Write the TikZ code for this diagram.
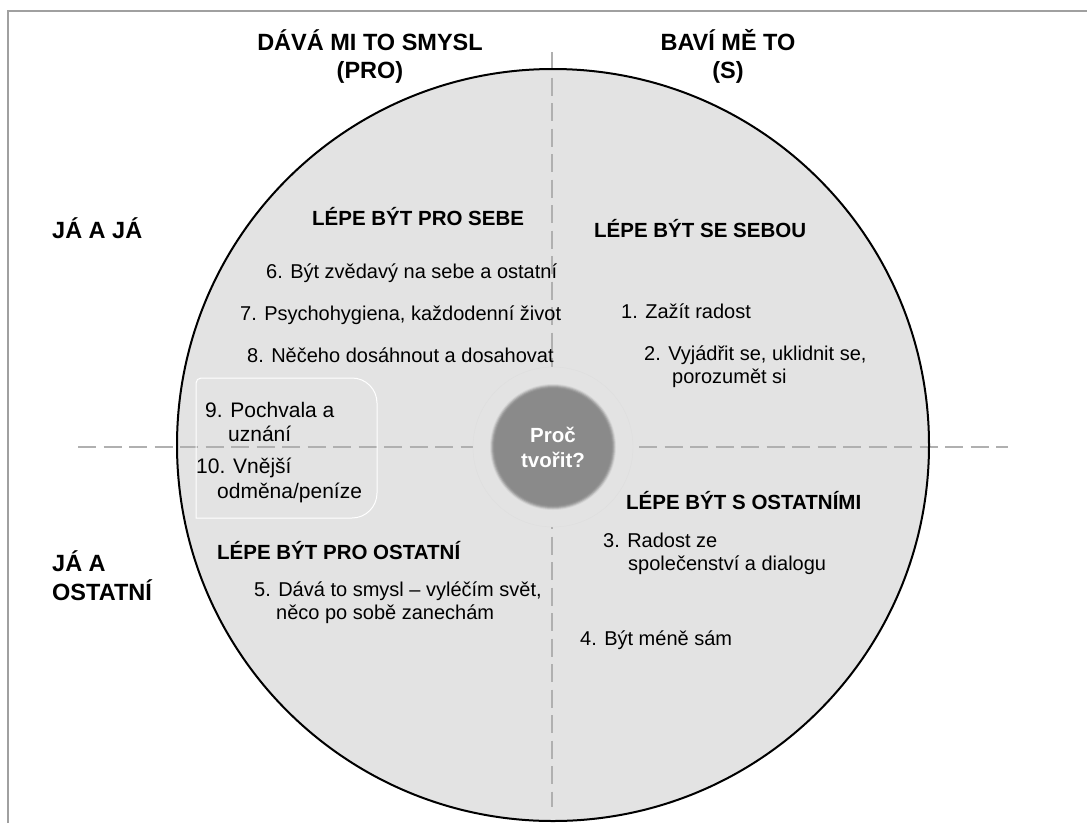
\documentclass[tikz,border=0pt]{standalone}
\usepackage{fontspec}
\setmainfont{Liberation Sans}
\definecolor{bgc}{HTML}{E3E3E3}
\definecolor{dashc}{HTML}{B0B0B0}
\definecolor{framec}{HTML}{A0A0A0}
\definecolor{corec}{HTML}{8A8A8A}
\begin{document}
\begin{tikzpicture}[x=1pt,y=-1pt,
  body/.style={anchor=base west, inner sep=0pt, font=\fontsize{20}{24}\selectfont},
  boxt/.style={anchor=base west, inner sep=0pt, font=\fontsize{21}{25}\selectfont},
  head/.style={anchor=base west, inner sep=0pt, font=\fontsize{20.5}{24}\selectfont\bfseries},
  big/.style={anchor=base, inner sep=0pt, font=\fontsize{23.5}{28}\selectfont\bfseries},
  bigl/.style={anchor=base west, inner sep=0pt, font=\fontsize{23.5}{28}\selectfont\bfseries},
  axis/.style={draw=dashc, line width=2pt, dash pattern=on 18pt off 7.5pt}]
\useasboundingbox (0,0) rectangle (1087,823);
% frame
\draw[framec, line width=1.4pt] (8,823) -- (8,11) -- (1087,11);
% big circle
\fill[bgc] (553,445) circle (376);
% axes
\coordinate (vtop) at (552,52);
\coordinate (vbot) at (552,807);
\coordinate (hl) at (78,447);
\coordinate (hr) at (1008,447);
\draw[axis] (vtop) -- (vbot);
\draw[axis] (hl) -- (hr);
\draw[black, line width=2pt] (553,445) circle (376);
% inner box
\draw[white, line width=1pt] (196,518) -- (196,383) arc[start angle=180,end angle=270,radius=5]
  -- (352,378) arc[start angle=270,end angle=360,radius=25] -- (377,493)
  arc[start angle=0,end angle=90,radius=25] -- cycle;
% center
\fill[bgc] (553,447) circle (80);
\draw[white!85!black, line width=0.4pt, opacity=0.5] (553,447) circle (80);
\foreach \r/\o in {63/0.15,62/0.3,61/0.45,60/0.6,59/0.8,58/1} {\fill[corec, opacity=\o] (553,447) circle (\r);}
\node[anchor=base, inner sep=0pt, text=white, font=\fontsize{20.5}{24}\selectfont\bfseries] (c1) at (553,442) {Proč};
\node[anchor=base, inner sep=0pt, text=white, font=\fontsize{20.5}{24}\selectfont\bfseries] (c2) at (553,467) {tvořit?};
% titles
\node[big] (t1a) at (370,50) {DÁVÁ MI TO SMYSL};
\node[big] (t1b) at (370,78) {(PRO)};
\node[big] (t2a) at (728,50) {BAVÍ MĚ TO};
\node[big] (t2b) at (728,78) {(S)};
\node[bigl] (l1) at (52,238) {JÁ A JÁ};
\node[bigl] (l2a) at (52,571) {JÁ A};
\node[bigl] (l2b) at (52,600) {OSTATNÍ};
% quadrant: pro sebe
\node[head] (h1) at (312,225) {LÉPE BÝT PRO SEBE};
\node[body] (i6) at (266,278) {6. Být zvědavý na sebe a ostatní};
\node[body] (i7) at (240,320) {7. Psychohygiena, každodenní život};
\node[body] (i8) at (247,362) {8. Něčeho dosáhnout a dosahovat};
\node[boxt] (i9a) at (205,417) {9. Pochvala a};
\node[boxt] (i9b) at (228,441) {uznání};
\node[boxt] (i10a) at (196,473) {10. Vnější};
\node[boxt] (i10b) at (217,498) {odměna/peníze};
% se sebou
\node[head] (h2) at (594,237) {LÉPE BÝT SE SEBOU};
\node[body] (i1) at (621,318) {1. Zažít radost};
\node[body] (i2a) at (644,360) {2. Vyjádřit se, uklidnit se,};
\node[body] (i2b) at (672,383) {porozumět si};
% s ostatnimi
\node[head] (h3) at (626,509) {LÉPE BÝT S OSTATNÍMI};
\node[body] (i3a) at (603,547) {3. Radost ze};
\node[body] (i3b) at (628,570) {společenství a dialogu};
\node[body] (i4) at (580,645) {4. Být méně sám};
% pro ostatni
\node[head] (h4) at (217,559) {LÉPE BÝT PRO OSTATNÍ};
\node[body] (i5a) at (254,596) {5. Dává to smysl – vyléčím svět,};
\node[body] (i5b) at (276,619) {něco po sobě zanechám};
\end{tikzpicture}
\end{document}
